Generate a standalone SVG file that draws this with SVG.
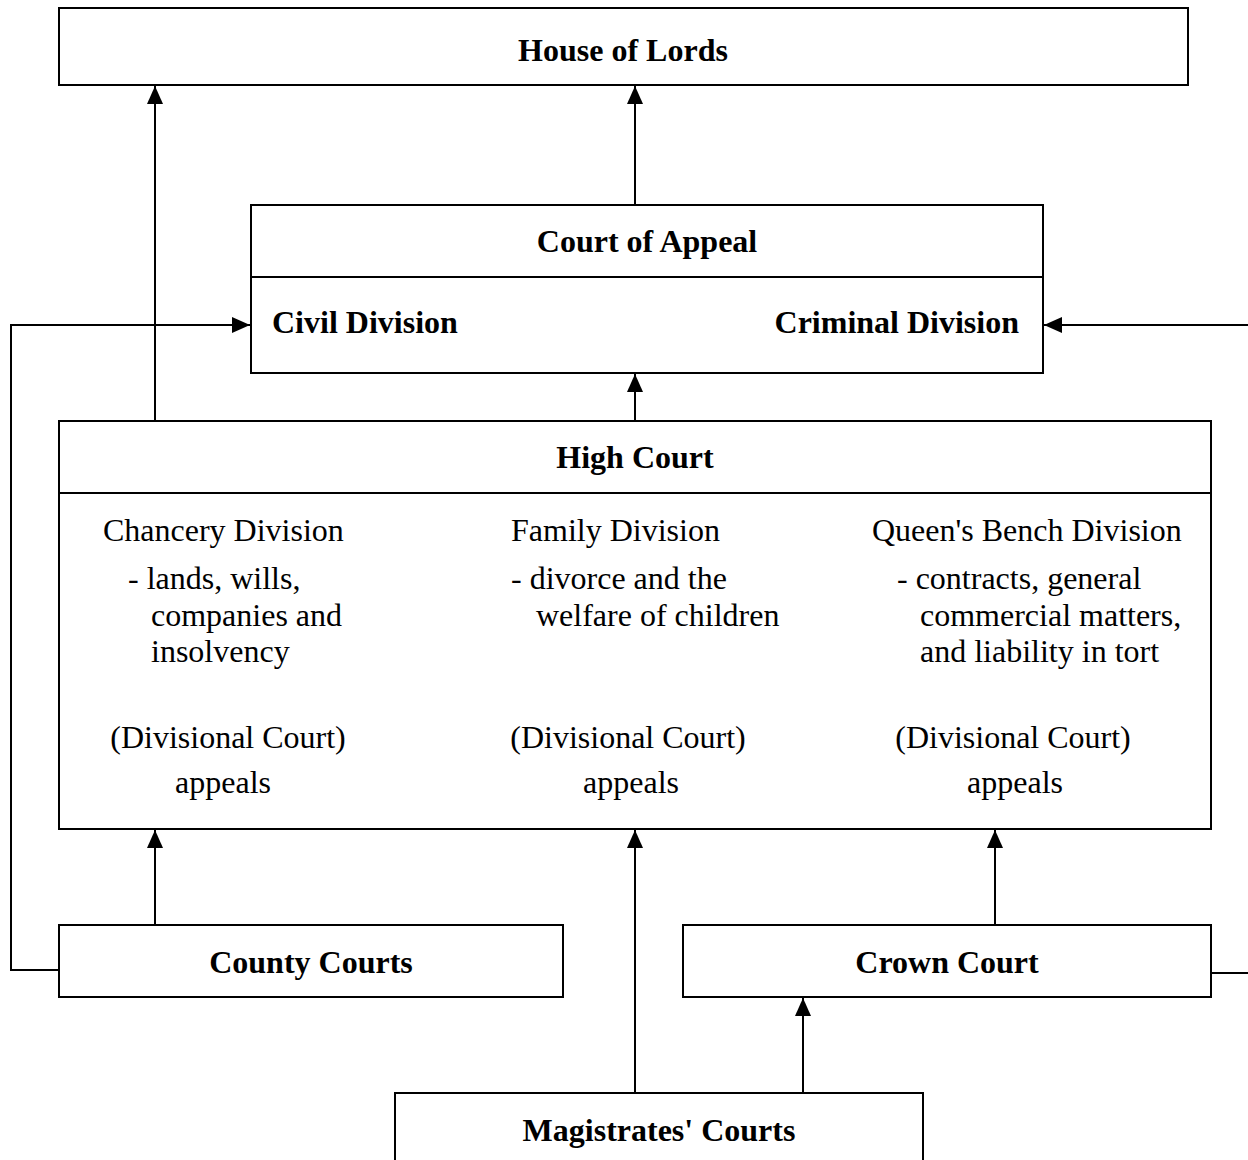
<svg xmlns="http://www.w3.org/2000/svg" width="1248" height="1160" viewBox="0 0 1248 1160">
<style>
.box{fill:#fff;stroke:#000;stroke-width:2}
.ln{fill:none;stroke:#000;stroke-width:2}
text{font-family:"Liberation Serif","Times New Roman",serif;font-size:32px;fill:#000}
.b{font-weight:bold}
.m{text-anchor:middle}
</style>
<defs>
<marker id="ah" viewBox="0 0 18 16" refX="18" refY="8" markerWidth="18" markerHeight="16" markerUnits="userSpaceOnUse" orient="auto">
<path d="M0,0 L18,8 L0,16 Z" fill="#000"/>
</marker>
</defs>
<g id="connectors">
<line class="ln" x1="155" y1="421" x2="155" y2="86" marker-end="url(#ah)"/>
<line class="ln" x1="635" y1="205" x2="635" y2="86" marker-end="url(#ah)"/>
<line class="ln" x1="635" y1="421" x2="635" y2="374" marker-end="url(#ah)"/>
<line class="ln" x1="155" y1="925" x2="155" y2="830" marker-end="url(#ah)"/>
<line class="ln" x1="635" y1="1093" x2="635" y2="830" marker-end="url(#ah)"/>
<line class="ln" x1="995" y1="925" x2="995" y2="830" marker-end="url(#ah)"/>
<line class="ln" x1="803" y1="1093" x2="803" y2="998" marker-end="url(#ah)"/>
<polyline class="ln" points="59,970 11,970 11,325 250,325" marker-end="url(#ah)"/>
<line class="ln" x1="1250" y1="325" x2="1044" y2="325" marker-end="url(#ah)"/>
<line class="ln" x1="1211" y1="973" x2="1250" y2="973"/>
</g>
<g id="house-of-lords">
<rect class="box" x="59" y="8" width="1129" height="77"/>
<text class="b m" x="623" y="61">House of Lords</text>
</g>
<g id="court-of-appeal">
<rect class="box" x="251" y="205" width="792" height="168"/>
<line class="ln" x1="251" y1="277" x2="1043" y2="277"/>
<text class="b m" x="647" y="252">Court of Appeal</text>
<text class="b" x="272" y="333">Civil Division</text>
<text class="b" x="1019" y="333" text-anchor="end">Criminal Division</text>
</g>
<g id="high-court">
<rect class="box" x="59" y="421" width="1152" height="408"/>
<line class="ln" x1="59" y1="493" x2="1211" y2="493"/>
<text class="b m" x="635" y="468">High Court</text>
<text x="103" y="541">Chancery Division</text>
<text x="128" y="589">- lands, wills,</text>
<text x="151" y="626">companies and</text>
<text x="151" y="662">insolvency</text>
<text class="m" x="228" y="748">(Divisional Court)</text>
<text class="m" x="223" y="793">appeals</text>
<text x="511" y="541">Family Division</text>
<text x="511" y="589">- divorce and the</text>
<text x="536" y="626">welfare of children</text>
<text class="m" x="628" y="748">(Divisional Court)</text>
<text class="m" x="631" y="793">appeals</text>
<text x="872" y="541">Queen's Bench Division</text>
<text x="897" y="589">- contracts, general</text>
<text x="920" y="626">commercial matters,</text>
<text x="920" y="662">and liability in tort</text>
<text class="m" x="1013" y="748">(Divisional Court)</text>
<text class="m" x="1015" y="793">appeals</text>
</g>
<g id="county-courts">
<rect class="box" x="59" y="925" width="504" height="72"/>
<text class="b m" x="311" y="973">County Courts</text>
</g>
<g id="crown-court">
<rect class="box" x="683" y="925" width="528" height="72"/>
<text class="b m" x="947" y="973">Crown Court</text>
</g>
<g id="magistrates-courts">
<rect class="box" x="395" y="1093" width="528" height="100"/>
<text class="b m" x="659" y="1141">Magistrates' Courts</text>
</g>
</svg>
